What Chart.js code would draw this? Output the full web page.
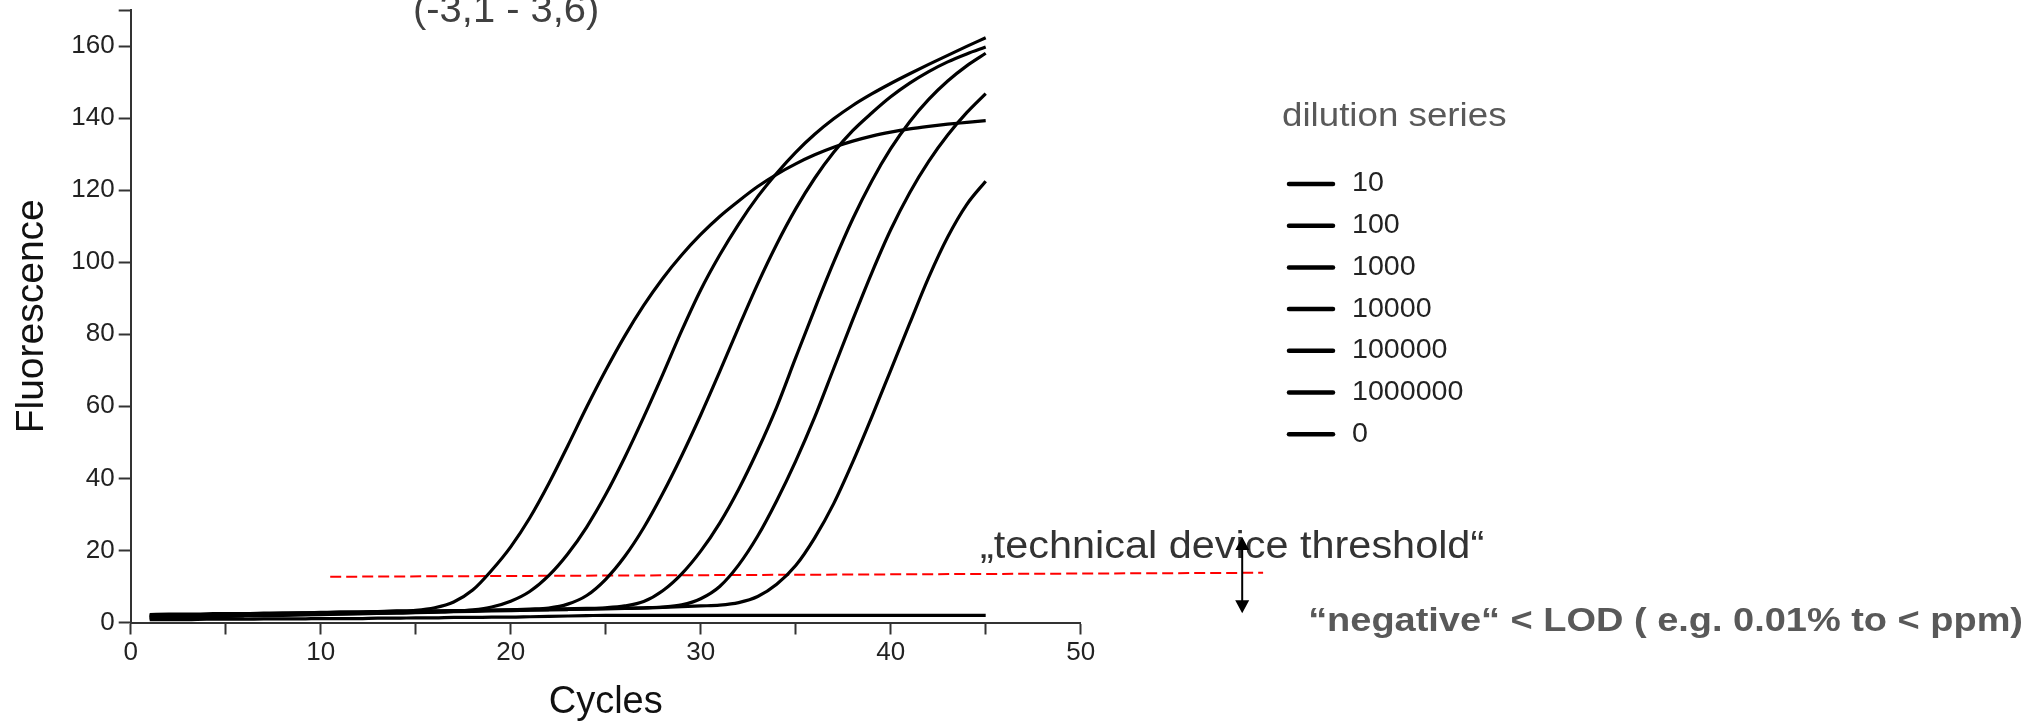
<!DOCTYPE html>
<html>
<head>
<meta charset="utf-8">
<title>qPCR dilution series</title>
<script src="https://cdn.jsdelivr.net/npm/chart.js@4.4.1/dist/chart.umd.min.js"></script>
<style>
  html, body { margin: 0; padding: 0; background: #fff; }
  #chart { display: block; }
</style>
</head>
<body>
<canvas id="chart" width="2037" height="725"></canvas>
<script>
const FONT = '"Liberation Sans", Arial, Helvetica, sans-serif';
const AXIS_COLOR = '#333';

// amplification cycle numbers (x)
const CYCLES = [
  1, 2, 3, 4, 5, 6, 7, 8, 9, 10, 11, 12, 13, 14, 15, 16, 17, 18, 19, 20, 21, 22, 23,
  24, 25, 26, 27, 28, 29, 30, 31, 32, 33, 34, 35, 36, 37, 38, 39, 40, 41, 42, 43, 44, 45,
];

const SERIES_LABELS = ['10', '100', '1000', '10000', '100000', '1000000', '0'];

// fluorescence per cycle
const DIL_10 = [
  1.8, 1.9, 2.0, 2.1, 2.2, 2.3, 2.4, 2.5, 2.6, 2.7, 2.8, 2.9, 3.0, 3.2, 3.4, 4.1, 5.7, 9.0, 14.5, 21.0, 29.0, 38.5, 49.0,
  59.8, 70.0, 79.5, 88.0, 95.5, 102.0, 107.7, 112.7, 117.0, 121.0, 124.4, 127.3, 129.8, 131.9, 133.6, 135.0, 136.1, 137.0, 137.7, 138.3, 138.8, 139.3,
];
const DIL_100 = [
  1.3, 1.4, 1.5, 1.6, 1.7, 1.8, 1.9, 2.0, 2.1, 2.2, 2.3, 2.4, 2.5, 2.6, 2.7, 2.9, 3.1, 3.5, 4.3, 5.9, 8.6, 13.0, 19.0,
  26.5, 35.5, 45.8, 57.0, 68.8, 81.0, 92.3, 102.0, 110.6, 118.2, 124.7, 130.5, 135.5, 139.8, 143.5, 146.7, 149.6, 152.3, 154.9, 157.4, 159.9, 162.3,
];
const DIL_1000 = [
  2.2, 2.3, 2.3, 2.4, 2.5, 2.5, 2.6, 2.7, 2.7, 2.8, 2.9, 2.9, 3.0, 3.1, 3.1, 3.2, 3.3, 3.3, 3.4, 3.5, 3.7, 4.0, 5.1,
  7.5, 12.0, 18.3, 26.3, 35.8, 46.3, 57.6, 69.6, 82.0, 94.0, 105.0, 114.8, 123.3, 130.5, 136.5, 141.4, 145.9, 149.7, 152.9, 155.6, 157.8, 159.7,
];
const DIL_10000 = [
  1.6, 1.7, 1.8, 1.9, 2.0, 2.1, 2.2, 2.3, 2.4, 2.5, 2.6, 2.7, 2.8, 2.9, 3.0, 3.1, 3.2, 3.3, 3.4, 3.5, 3.6, 3.7, 3.8,
  3.9, 4.1, 4.6, 5.8, 8.8, 13.5, 19.8, 27.6, 37.0, 47.8, 59.8, 73.5, 87.0, 100.0, 112.0, 122.5, 131.5, 139.0, 145.2, 150.3, 154.5, 158.0,
];
const DIL_100000 = [
  2.0, 2.1, 2.2, 2.2, 2.3, 2.4, 2.5, 2.5, 2.6, 2.7, 2.8, 2.8, 2.9, 3.0, 3.1, 3.1, 3.2, 3.3, 3.4, 3.4, 3.5, 3.6, 3.7,
  3.8, 3.9, 4.0, 4.1, 4.3, 4.9, 6.6, 10.0, 16.0, 24.0, 33.8, 44.8, 57.0, 70.5, 84.0, 97.0, 109.0, 119.3, 128.0, 135.3, 141.5, 146.8,
];
const DIL_1000000 = [
  1.2, 1.3, 1.5, 1.6, 1.7, 1.9, 2.0, 2.1, 2.2, 2.3, 2.4, 2.5, 2.6, 2.7, 2.8, 2.9, 3.0, 3.1, 3.2, 3.3, 3.4, 3.5, 3.6,
  3.7, 3.8, 3.9, 4.0, 4.2, 4.4, 4.6, 4.8, 5.5, 7.2, 10.6, 15.8, 23.5, 33.0, 44.5, 57.0, 70.0, 83.0, 95.8, 107.0, 116.0, 122.5,
];
const NEG_CTRL = [
  0.8, 0.8, 0.8, 0.9, 0.9, 0.9, 1.0, 1.0, 1.0, 1.1, 1.1, 1.1, 1.2, 1.2, 1.3, 1.3, 1.4, 1.4, 1.5, 1.5, 1.6, 1.7, 1.8,
  1.9, 2.0, 2.0, 2.0, 2.0, 2.0, 2.0, 2.0, 2.0, 2.0, 2.0, 2.0, 2.0, 2.0, 2.0, 2.0, 2.0, 2.0, 2.0, 2.0, 2.0, 2.0,
];

// red dashed "technical device threshold" line (cycles, fluorescence)
const THRESHOLD_X = [10.5, 59.6];
const THRESHOLD_Y = [12.7, 13.8];

// double arrow below the threshold, tip to tip
const ARROW_X = [58.5, 58.5];
const ARROW_Y = [23.7, 2.6];

// free text notes, anchored in data units
const NOTES = [
  { text: '(-3,1 - 3,6)', x: 14.86, y: 166.6, font: `38px ${FONT}`, color: '#404040', stretch: 1.05 },
  { text: '\u201Etechnical device threshold\u201C', x: 44.7, y: 17.9, font: `38px ${FONT}`, color: '#333', stretch: 1.09 },
  { text: '\u201Cnegative\u201C < LOD ( e.g. 0.01% to < ppm)', x: 61.97, y: -2.36, font: `bold 33px ${FONT}`, color: '#595959', stretch: 1.15 },
];

// legend placement, px
const LEGEND_TITLE = 'dilution series';
const LEGEND_TITLE_POS = { x: 1282, y: 117 };
const LEGEND_LINE_X = [1289, 1333];
const LEGEND_TEXT_X = 1352;
const LEGEND_ROW_Y = 184;
const LEGEND_ROW_STEP = 41.7;

const Y_AXIS_W = 130.7;
const X_AXIS_H = 102.5;
const PAD_RIGHT = 956.3;

const CURVES = [DIL_10, DIL_100, DIL_1000, DIL_10000, DIL_100000, DIL_1000000, NEG_CTRL];

const datasets = CURVES.map((vals, i) => ({
  label: SERIES_LABELS[i],
  data: CYCLES.map((c, k) => ({ x: c, y: vals[k] })),
  borderColor: '#000',
  backgroundColor: '#000',
  borderWidth: 3.2,
  pointRadius: 0,
  cubicInterpolationMode: 'monotone',
  yAxisID: 'y',
}));

datasets.push({
  label: 'threshold',
  data: THRESHOLD_X.map((v, k) => ({ x: v, y: THRESHOLD_Y[k] })),
  borderColor: '#ff0000',
  borderWidth: 2,
  borderDash: [11, 5],
  pointRadius: 0,
  clip: false,
  yAxisID: 'y',
});

function drawNote(ctx, n, px, py) {
  ctx.save();
  ctx.translate(px, py);
  ctx.scale(n.stretch, 1);
  ctx.font = n.font;
  ctx.fillStyle = n.color;
  ctx.textAlign = 'left';
  ctx.textBaseline = n.baseline || 'alphabetic';
  ctx.fillText(n.text, 0, 0);
  ctx.restore();
}

const notesPlugin = {
  id: 'notes',
  afterDraw(chart) {
    const { ctx, scales: { x, y } } = chart;

    NOTES.forEach((n) => drawNote(ctx, n, x.getPixelForValue(n.x), y.getPixelForValue(n.y)));

    // double arrow
    const ax = x.getPixelForValue(ARROW_X[0]);
    const top = y.getPixelForValue(ARROW_Y[0]);
    const bottom = y.getPixelForValue(ARROW_Y[1]);
    ctx.save();
    ctx.strokeStyle = '#000';
    ctx.fillStyle = '#000';
    ctx.lineWidth = 2;
    ctx.beginPath();
    ctx.moveTo(ax, top + 6);
    ctx.lineTo(ax, bottom - 6);
    ctx.stroke();
    ctx.beginPath();
    ctx.moveTo(ax, top);
    ctx.lineTo(ax - 7, top + 13);
    ctx.lineTo(ax + 7, top + 13);
    ctx.closePath();
    ctx.moveTo(ax, bottom);
    ctx.lineTo(ax - 7, bottom - 13);
    ctx.lineTo(ax + 7, bottom - 13);
    ctx.closePath();
    ctx.fill();
    ctx.restore();

    // legend for the dilution curves
    drawNote(ctx, { text: LEGEND_TITLE, font: `34px ${FONT}`, color: '#595959', stretch: 1.08, baseline: 'middle' },
      LEGEND_TITLE_POS.x, LEGEND_TITLE_POS.y);
    chart.data.datasets.slice(0, CURVES.length).forEach((ds, i) => {
      const rowY = LEGEND_ROW_Y + i * LEGEND_ROW_STEP;
      ctx.save();
      ctx.strokeStyle = ds.borderColor;
      ctx.lineWidth = 4.5;
      ctx.lineCap = 'round';
      ctx.beginPath();
      ctx.moveTo(LEGEND_LINE_X[0], rowY);
      ctx.lineTo(LEGEND_LINE_X[1], rowY);
      ctx.stroke();
      ctx.restore();
      drawNote(ctx, { text: ds.label, font: `27px ${FONT}`, color: '#222', stretch: 1.06, baseline: 'middle' },
        LEGEND_TEXT_X, rowY);
    });
  },
};

const axisGrid = {
  display: true,
  drawOnChartArea: false,
  drawTicks: true,
  tickLength: 12,
  tickWidth: 2,
  tickColor: AXIS_COLOR,
};

new Chart(document.getElementById('chart'), {
  type: 'line',
  data: { datasets },
  plugins: [notesPlugin],
  options: {
    responsive: false,
    devicePixelRatio: 1,
    animation: false,
    events: [],
    layout: { padding: { left: 0, top: 10, right: PAD_RIGHT, bottom: 0 } },
    plugins: {
      tooltip: { enabled: false },
      legend: { display: false },
    },
    scales: {
      x: {
        type: 'linear',
        min: 0,
        max: 50,
        afterFit: (s) => { s.height = X_AXIS_H; },
        border: { display: true, color: AXIS_COLOR, width: 2 },
        grid: axisGrid,
        ticks: {
          stepSize: 5,
          autoSkip: false,
          maxRotation: 0,
          padding: 2.4,
          color: '#222',
          font: { family: FONT, size: 26 },
          callback: (v) => (v % 10 === 0 ? v : ''),
        },
        title: {
          display: true,
          text: 'Cycles',
          color: '#111',
          font: { family: FONT, size: 38 },
          padding: { top: 0, bottom: 0 },
        },
      },
      y: {
        type: 'linear',
        min: 0,
        max: 170,
        afterFit: (s) => { s.width = Y_AXIS_W; },
        border: { display: true, color: AXIS_COLOR, width: 2 },
        grid: axisGrid,
        ticks: {
          stepSize: 20,
          padding: 4,
          color: '#222',
          font: (c) => ({ family: FONT, size: c.tick && c.tick.value === 170 ? 1 : 26 }),
          callback: (v) => (v === 170 ? '' : v),
        },
        title: {
          display: true,
          text: 'Fluorescence',
          color: '#111',
          font: { family: FONT, size: 39 },
          padding: { top: 9, bottom: 0 },
        },
      },
    },
  },
});
</script>
</body>
</html>
